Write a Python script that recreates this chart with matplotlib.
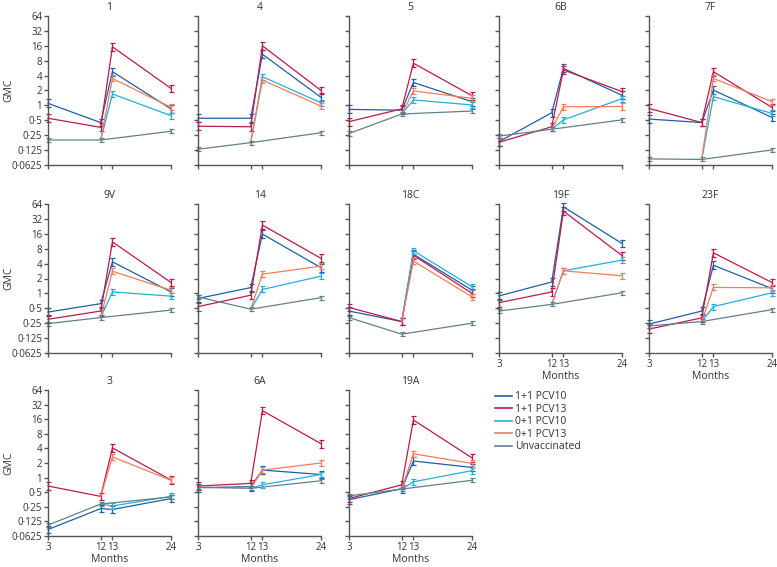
import matplotlib.pyplot as plt
import numpy as np

plt.rcParams['font.family'] = ['Open Sans', 'DejaVu Sans']

# Dane: serotypy, miesiące, GMC dla każdej grupy (None = brak pomiaru)
serotypes = ["1", "4", "5", "6B", "7F", "9V", "14", "18C", "19F", "23F", "3", "6A", "19A"]
months = [3, 12, 13, 24]
month_labels = ["3", "12", "13", "24"]

pcv10_1p1 = [
    [1.1, 0.45, 4.8, 0.85], [0.55, 0.55, 10.8, 1.45], [0.83, 0.8, 2.9, 1.19],
    [0.185, 0.71, 5.6, 1.6], [0.53, 0.45, 2.04, 0.57], [0.42, 0.62, 4.35, 1.07],
    [0.79, 1.31, 15.8, 3.3], [0.44, 0.27, 6.2, 1.16], [0.89, 1.7, 56, 10.2],
    [0.24, 0.44, 3.7, 1.25], [0.085, 0.23, 0.22, 0.37], [0.62, 0.65, 1.43, 1.16],
    [0.35, 0.59, 2.2, 1.62],
]
pcv13_1p1 = [
    [0.55, 0.36, 15.3, 2.2], [0.38, 0.37, 16, 2.0], [0.47, 0.85, 7.1, 1.57],
    [0.18, 0.37, 5.2, 1.9], [0.87, 0.45, 4.8, 0.91], [0.3, 0.44, 11, 1.66],
    [0.54, 0.92, 24, 5.1], [0.52, 0.27, 5.9, 1.0], [0.65, 1.07, 46, 5.8],
    [0.19, 0.32, 6.6, 1.66], [0.67, 0.41, 4.1, 0.89], [0.67, 0.76, 24, 5.0],
    [0.37, 0.71, 15.4, 2.55],
]
pcv10_0p1 = [
    [None, 0.2, 1.7, 0.62], [None, 0.177, 3.8, 1.13], [None, 0.67, 1.29, 1.02],
    [None, 0.33, 0.51, 1.37], [None, 0.081, 1.5, 0.69], [None, 0.325, 1.07, 0.88],
    [None, 0.48, 1.2, 2.23], [None, 0.27, 7.3, 1.36], [None, 0.6, 2.86, 4.7],
    [None, 0.27, 0.54, 1.03], [None, 0.285, 0.26, 0.41], [None, 0.6, 0.71, 1.16],
    [None, 0.58, 0.82, 1.39],
]
pcv13_0p1 = [
    [None, 0.2, 3.5, 0.91], [None, 0.177, 3.25, 0.97], [None, 0.67, 1.96, 1.39],
    [None, 0.33, 0.94, 0.95], [None, 0.081, 3.5, 1.19], [None, 0.325, 2.8, 1.16],
    [None, 0.48, 2.45, 3.55], [None, 0.27, 4.5, 0.85], [None, 0.6, 2.86, 2.27],
    [None, 0.27, 1.32, 1.3], [None, 0.41, 2.67, 0.88], [None, 0.6, 1.43, 2.0],
    [None, 0.58, 3.1, 1.96],
]
unvaccinated = [
    [0.2, 0.2, None, 0.3], [0.13, 0.177, None, 0.28], [0.27, 0.67, None, 0.77],
    [0.24, 0.33, None, 0.51], [0.083, 0.081, None, 0.126], [0.245, 0.325, None, 0.46],
    [0.85, 0.48, None, 0.82], [0.325, 0.15, None, 0.25], [0.44, 0.6, None, 1.03],
    [0.22, 0.27, None, 0.47], [0.105, 0.285, None, 0.4], [0.63, 0.6, None, 0.86],
    [0.42, 0.58, None, 0.88],
]
# przybliżona szerokość przedziału ufności (mnożnik) dla każdej grupy
ci_ratio = [1.2, 1.2, 1.15, 1.15, 1.1]

group_names = ["1+1 PCV10", "1+1 PCV13", "0+1 PCV10", "0+1 PCV13", "Unvaccinated"]
group_data = [pcv10_1p1, pcv13_1p1, pcv10_0p1, pcv13_0p1, unvaccinated]
colors = ["#1f5fa6", "#c0184c", "#22aede", "#f47c5c", "#62808b"]

yticks = [0.0625, 0.125, 0.25, 0.5, 1, 2, 4, 8, 16, 32, 64]
ytick_labels = ["0·0625", "0·125", "0·25", "0·5", "1", "2", "4", "8", "16", "32", "64"]
x_pos = {3: 0, 12: 9, 13: 11, 24: 21}

W, H = 777, 567
col_left = [48, 198, 349, 499, 649]
row_top = [16, 204, 390]
row_h = [149, 149, 146]
ax_w = 123

fig = plt.figure(figsize=(W / 100, H / 100), dpi=100)
axis_col = "#555555"
text_col = "#333333"

for i, name in enumerate(serotypes):
    row, col = (i // 5, i % 5) if i < 10 else (2, i - 10)
    ax = fig.add_axes([col_left[col] / W, 1 - (row_top[row] + row_h[row]) / H,
                       ax_w / W, row_h[row] / H])

    # rysowanie od szarych (spód) do czerwonych (wierzch)
    for g in [4, 3, 2, 0, 1]:
        vals = group_data[g][i]
        xs = [x_pos[m] for m, v in zip(months, vals) if v is not None]
        ys = np.array([v for v in vals if v is not None], dtype=float)
        ax.plot(xs, ys, color=colors[g], lw=0.9, clip_on=False, zorder=2 + g * 0.1)
        # przedziały ufności (pomijamy punkt startowy grup 0+1 w 12 mies.)
        start = 1 if g in (2, 3) else 0
        ex, ey = np.array(xs[start:]), ys[start:]
        r = ci_ratio[g]
        ax.errorbar(ex, ey, yerr=[ey - ey / r, ey * r - ey], fmt="none",
                    ecolor=colors[g], elinewidth=0.9, capsize=1.8, capthick=0.9,
                    clip_on=False, zorder=2 + g * 0.1)

    ax.set_yscale("log", base=2)
    ax.set_ylim(0.0625, 64)
    ax.set_xlim(0, 21)
    ax.set_yticks(yticks)
    ax.minorticks_off()
    ax.set_xticks([x_pos[m] for m in months])
    for s in ["top", "right"]:
        ax.spines[s].set_visible(False)
    for s in ["left", "bottom"]:
        ax.spines[s].set_color(axis_col)
        ax.spines[s].set_linewidth(1.0)
    ax.tick_params(colors=axis_col, labelcolor=text_col, length=3, width=1.0,
                   labelsize=7, pad=1.2)
    ax.set_title(name, fontsize=7.5, color=text_col, pad=4)

    if col == 0:
        ax.set_yticklabels(ytick_labels)
        ax.set_ylabel("GMC", fontsize=7.5, color=text_col)
        ax.yaxis.set_label_coords(-0.27, 0.5)
    else:
        ax.set_yticklabels([])

    if row == 2 or (row == 1 and col >= 3):
        ax.set_xticklabels(month_labels)
        ax.set_xlabel("Months", fontsize=7.5, color=text_col, labelpad=1)
    else:
        ax.set_xticklabels([])

# legenda
handles = [plt.Line2D([], [], color=c, lw=1.2) for c in colors]
fig.legend(handles, group_names, loc="upper left", bbox_to_anchor=(491 / W, 1 - 387 / H),
           frameon=False, fontsize=7.5, handlelength=1.6, handletextpad=0.35,
           labelspacing=0.15, labelcolor=text_col, borderaxespad=0)

fig.savefig("out.png", dpi=100)
